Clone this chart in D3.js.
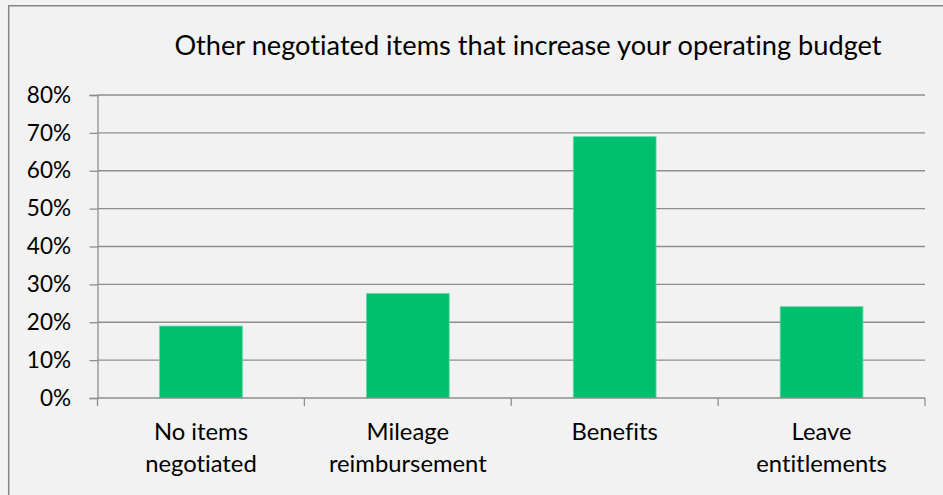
<!DOCTYPE html>
<html>
<head>
<meta charset="utf-8">
<script src="https://cdn.jsdelivr.net/npm/d3@7"></script>
<style>
  html, body { margin: 0; padding: 0; background: #f2f2f2; }
  svg { display: block; }
  text { font-family: Lato, "Open Sans", Arial, sans-serif; fill: #000;
         font-variant-ligatures: none; font-feature-settings: "liga" 0, "clig" 0; }
</style>
</head>
<body>
<svg id="chart" width="943" height="495"></svg>
<script>
// Share of respondents by negotiated item
const categories = [["No items", "negotiated"], ["Mileage", "reimbursement"], ["Benefits"], ["Leave", "entitlements"]];
const shares = [0.19, 0.276, 0.69, 0.241];
const yTicks = [0, 0.1, 0.2, 0.3, 0.4, 0.5, 0.6, 0.7, 0.8];
const title = "Other negotiated items that increase your operating budget";

const W = 943, H = 495;
const margin = { left: 97.5, right: 18, top: 95, bottom: 97 };
const svg = d3.select("#chart");

svg.append("rect").attr("width", W).attr("height", H).attr("fill", "#f2f2f2");
// frame (top and left edges show)
svg.append("path")
  .attr("d", `M8.7,${H} V5.7 H${W}`)
  .attr("fill", "none").attr("stroke", "#868686").attr("stroke-width", 1.5);

const x = d3.scaleBand()
  .domain(d3.range(categories.length))
  .range([margin.left, W - margin.right])
  .paddingInner(0.6).paddingOuter(0.3);

const y = d3.scaleLinear().domain([0, 0.8]).range([H - margin.bottom, margin.top]);

// gridlines
svg.append("g").selectAll("line").data(yTicks.slice(1)).join("line")
  .attr("x1", margin.left).attr("x2", W - margin.right)
  .attr("y1", d => y(d)).attr("y2", d => y(d))
  .attr("stroke", "#8e8e8e").attr("stroke-width", 1.3);

// bars
svg.append("g").selectAll("rect").data(shares).join("rect")
  .attr("x", (d, i) => x(i)).attr("width", x.bandwidth())
  .attr("y", d => y(d)).attr("height", d => y(0) - y(d))
  .attr("fill", "#00bf6f").attr("stroke", "#5fdba3").attr("stroke-width", 0.8);

// y axis
const yAxis = d3.axisLeft(y).tickValues(yTicks).tickFormat(d3.format(".0%")).tickSize(8).tickPadding(18.5);
const gy = svg.append("g").attr("transform", `translate(${margin.left},0)`).call(yAxis);
gy.select(".domain").attr("stroke", "#8e8e8e").attr("stroke-width", 1.3);
gy.selectAll(".tick line").attr("stroke", "#8e8e8e").attr("stroke-width", 1.3);
gy.selectAll(".tick text").attr("font-size", 22.5).attr("font-family", "Lato, Arial, sans-serif").attr("fill", "#000");

// x axis baseline with category boundary ticks
const gx = svg.append("g");
gx.append("line").attr("x1", margin.left).attr("x2", W - margin.right)
  .attr("y1", y(0)).attr("y2", y(0)).attr("stroke", "#8e8e8e").attr("stroke-width", 1.3);
const bounds = d3.range(categories.length + 1).map(i => margin.left + i * (W - margin.right - margin.left) / categories.length);
gx.selectAll("line.b").data(bounds).join("line").attr("class", "b")
  .attr("x1", d => d).attr("x2", d => d).attr("y1", y(0)).attr("y2", y(0) + 8)
  .attr("stroke", "#8e8e8e").attr("stroke-width", 1.3);

// category labels
const lab = svg.append("g").selectAll("text").data(categories).join("text")
  .attr("x", (d, i) => x(i) + x.bandwidth() / 2)
  .attr("y", 440)
  .attr("text-anchor", "middle").attr("font-size", 23.8);
lab.selectAll("tspan").data(d => d).join("tspan")
  .attr("x", function () { return this.parentNode.getAttribute("x"); })
  .attr("dy", (d, i) => i === 0 ? 0 : 32)
  .text(d => d);

// title
svg.append("text").attr("x", 528).attr("y", 55).attr("text-anchor", "middle")
  .attr("font-size", 27.2).text(title);
</script>
</body>
</html>
